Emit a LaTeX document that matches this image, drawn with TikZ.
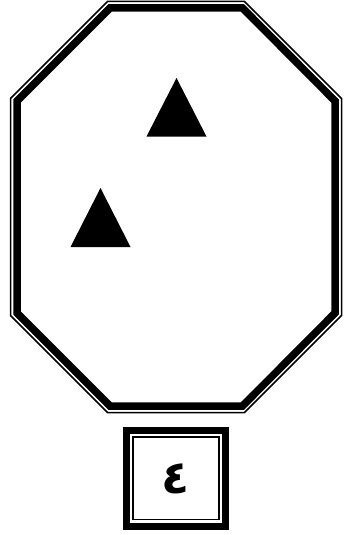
\documentclass[tikz,border=0pt]{standalone}
\usepackage{fontspec}
\newfontfamily\arabicfont[Script=Arabic]{DejaVu Sans}
\TeXXeTstate=1

\begin{document}
\begin{tikzpicture}[
      x=1pt, y=-1pt,
      thinrule/.style={draw=black, line width=1.5pt, line join=miter},
      thickrule/.style={draw=black, line width=7.5pt, line join=miter},
      marker/.style={fill=black},
      digit/.style={font=\arabicfont\bfseries\fontsize{46}{50}\selectfont, inner sep=0pt}
    ]
    \useasboundingbox (0,0) rectangle (350,535);

    % --- octagon frame ---------------------------------------------------------
    \draw[thinrule] (107.5,1.5) -- (244.5,1.5) -- (341.5,98.5) -- (341.5,315.5)
      -- (244.5,412.5) -- (107.5,412.5) -- (10.5,315.5) -- (10.5,98.5) -- cycle;
    \draw[thickrule] (110,8) -- (242.5,8) -- (335,101) -- (335,313)
      -- (242.5,406) -- (110,406) -- (17,313) -- (17,101) -- cycle;

    % two triangles
    \fill[marker] (176.5,78) -- (206.5,136.5) -- (146.5,136.5) -- cycle;
    \fill[marker] (100.5,188) -- (130.5,247) -- (70.5,247) -- cycle;

    % --- number box ------------------------------------------------------------
    \draw[thickrule] (126.5,430.5) rectangle (225.5,526.5);
    \draw[thinrule] (133,437) rectangle (219,519.5);
    \node[digit] (num) at (176,479) {\beginR ٤\endR};
\end{tikzpicture}
\end{document}
